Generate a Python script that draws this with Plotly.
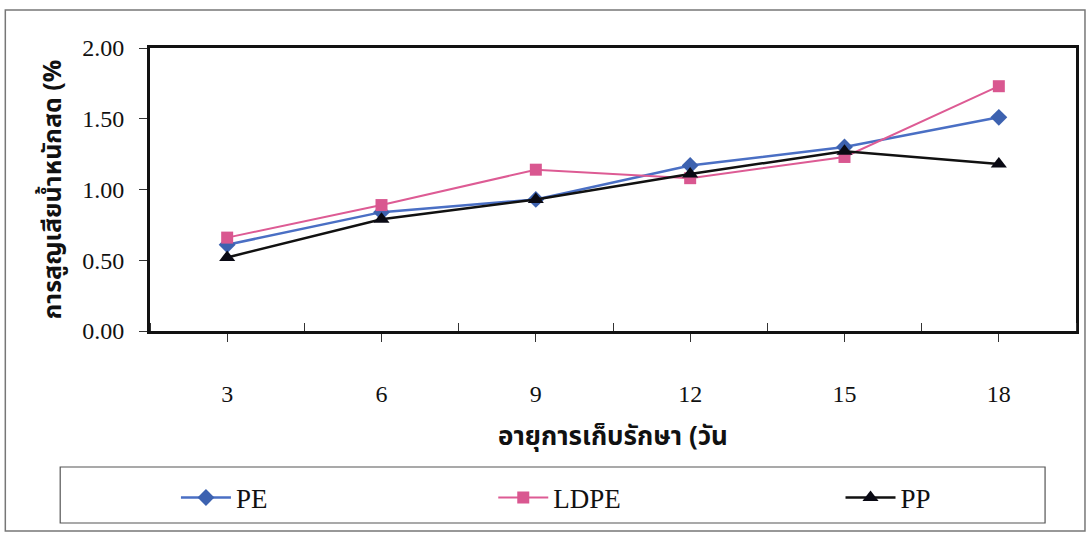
import plotly.graph_objects as go

# Storage days and weight loss (%) per packaging film
days = [3, 6, 9, 12, 15, 18]
pe = [0.61, 0.84, 0.93, 1.17, 1.30, 1.51]
ldpe = [0.66, 0.89, 1.14, 1.08, 1.23, 1.73]
pp = [0.52, 0.79, 0.93, 1.11, 1.27, 1.18]
y_ticks = [0.0, 0.5, 1.0, 1.5, 2.0]

SERIF = "Liberation Serif, Times New Roman, serif"
THAI = "Noto Sans Thai, Loma, Garuda, Tahoma, DejaVu Sans, sans-serif"

PLOT_L, PLOT_R, PLOT_T, PLOT_B = 150, 1078, 48, 331
PW, PH = PLOT_R - PLOT_L, PLOT_B - PLOT_T


def px(x):
    return (x - PLOT_L) / PW


def py(y):
    return (PLOT_B - y) / PH


legend_font = dict(family=SERIF, size=27, color="#111")

fig = go.Figure()
fig.add_trace(go.Scatter(
    x=days, y=pe, name="PE", mode="lines+markers", legend="legend",
    line=dict(color="#4a6fc4", width=2.5),
    marker=dict(symbol="diamond", size=13, color="#3d62b0"),
))
fig.add_trace(go.Scatter(
    x=days, y=ldpe, name="LDPE", mode="lines+markers", legend="legend2",
    line=dict(color="#dd5b94", width=2),
    marker=dict(symbol="square", size=12, color="#d95790"),
))
fig.add_trace(go.Scatter(
    x=days, y=pp, name="PP", mode="lines+markers", legend="legend3",
    line=dict(color="#111111", width=2.5),
    marker=dict(symbol="triangle-up", size=14, color="#0a0a14"),
))


def legend_at(x_left):
    return dict(
        x=px(x_left), y=py(498), xanchor="left", yanchor="middle",
        bgcolor="rgba(0,0,0,0)", borderwidth=0, font=legend_font,
        itemwidth=50,
    )


fig.update_layout(
    width=1091, height=536,
    margin=dict(l=PLOT_L, r=1091 - PLOT_R, t=PLOT_T, b=536 - PLOT_B),
    paper_bgcolor="white", plot_bgcolor="white",
    showlegend=True,
    legend=legend_at(176),
    legend2=legend_at(494),
    legend3=legend_at(842),
    xaxis=dict(
        range=[1.5, 19.5], tickvals=days, ticktext=[str(d) for d in days],
        ticks="outside", ticklen=8, tickcolor="#333", tickwidth=1,
        showline=True, linecolor="#111", linewidth=3, mirror=True,
        showgrid=False, zeroline=False,
        tickfont=dict(family=SERIF, size=24, color="#111"),
        ticklabelstandoff=31,
        minor=dict(tick0=4.5, dtick=3, ticks="inside", ticklen=8, tickcolor="#333"),
        title=dict(text="<b>อายุการเก็บรักษา (วัน</b>", standoff=22,
                   font=dict(family=THAI, size=26, color="#111")),
    ),
    yaxis=dict(
        range=[0, 2], tickvals=y_ticks, ticktext=[f"{v:.2f}" for v in y_ticks],
        ticks="outside", ticklen=8, tickcolor="#333", tickwidth=1,
        showline=True, linecolor="#111", linewidth=3, mirror=True,
        showgrid=False, zeroline=False,
        tickfont=dict(family=SERIF, size=24, color="#111"),
        ticklabelstandoff=10,
        title=dict(text="<b>การสูญเสียน้ำหนักสด (%</b>", standoff=14,
                   font=dict(family=THAI, size=25, color="#111")),
    ),
    shapes=[
        # outer chart frame
        dict(type="rect", xref="paper", yref="paper",
             x0=px(5), x1=px(1087), y0=py(531), y1=py(10),
             line=dict(color="#777", width=1.5)),
        # legend box
        dict(type="rect", xref="paper", yref="paper",
             x0=px(60), x1=px(1047), y0=py(523), y1=py(467),
             line=dict(color="#555", width=1.2)),
    ],
)

fig.write_html("out.html")
